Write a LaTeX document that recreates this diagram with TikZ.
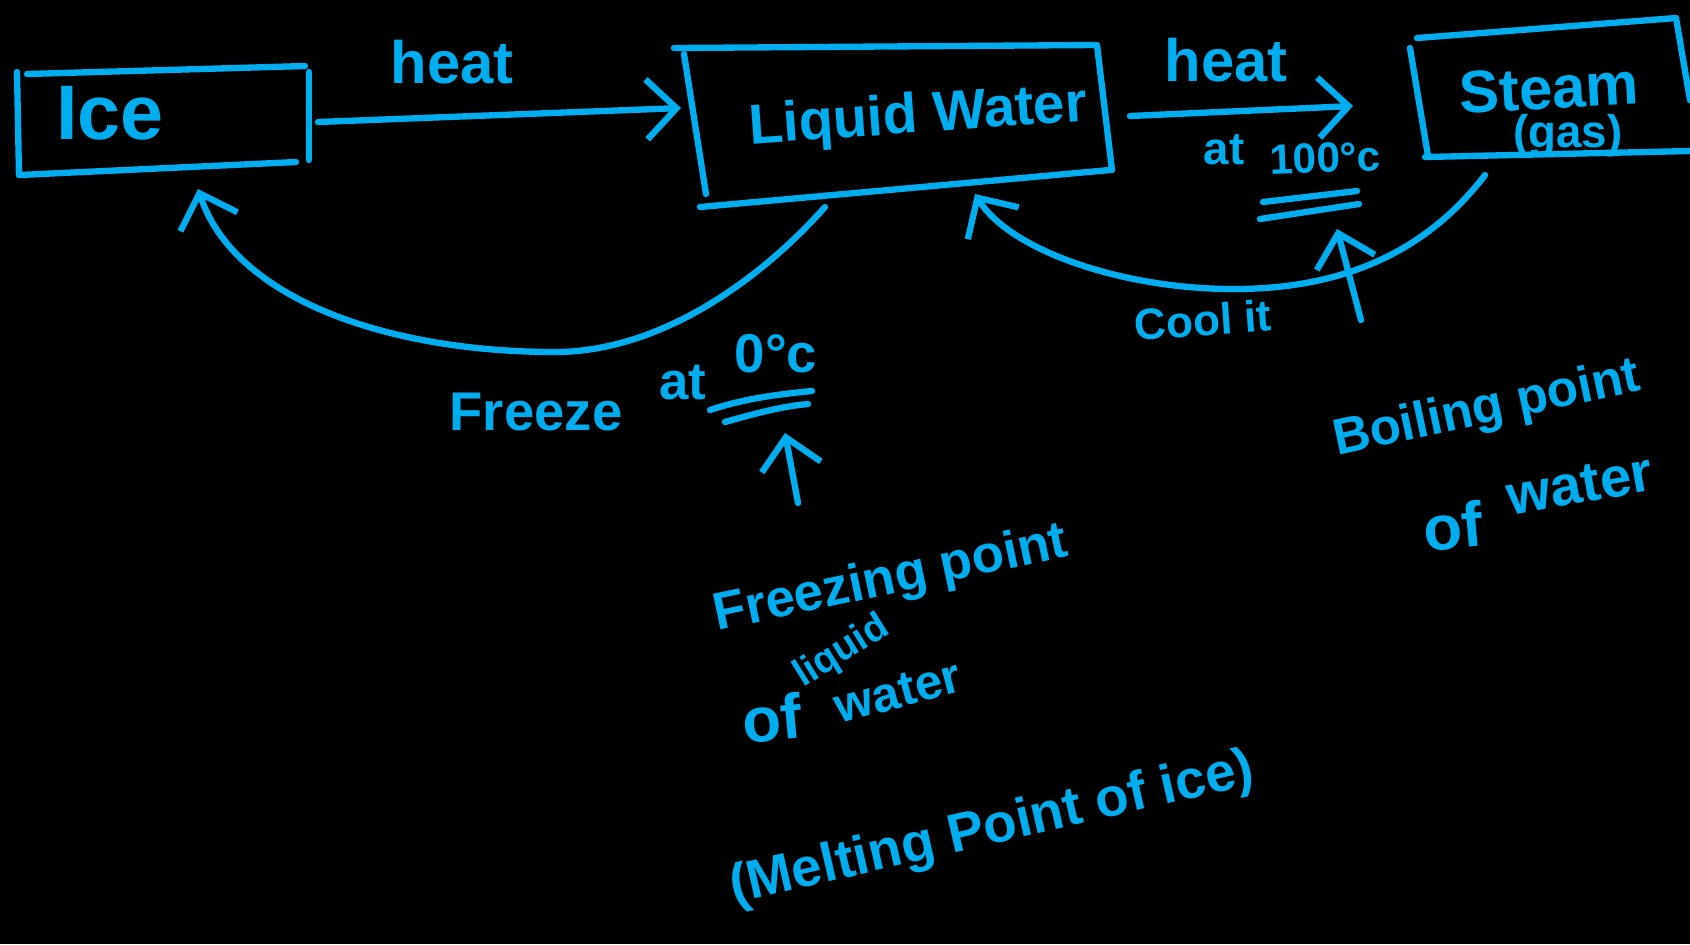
\documentclass[tikz,border=0pt]{standalone}
\usepackage{fontspec}
\setmainfont{Liberation Sans}
\usetikzlibrary{arrows.meta}
\definecolor{ink}{RGB}{0,174,239}
\begin{document}
\begin{tikzpicture}[x=0.01cm,y=-0.01cm,
  stroke/.style={draw=ink,line width=1.8pt,line cap=round,line join=round},
  arr/.style={stroke,-{Straight Barb[length=3mm,width=6mm,line width=1.8pt]}},
  lbl/.style={text=ink,inner sep=0pt},
  fs/.style={font=\bfseries\fontsize{#1}{#1}\selectfont}
]
\fill[black] (0,0) rectangle (1690,944);
\useasboundingbox (0,0) rectangle (1690,944);

% Ice box
\draw[stroke] (17,72) -- (19,175);
\draw[stroke] (27,74) -- (305,66);
\draw[stroke] (309,72) -- (309,160);
\draw[stroke] (19,175) -- (296,162);
\node[lbl,fs=22] (ice) at (110,113) {Ice};

% Liquid water box
\draw[stroke] (674,48) -- (1094,45);
\draw[stroke] (684,54) -- (706,194);
\draw[stroke] (1097,45) -- (1112,170);
\draw[stroke] (700,207) -- (1110,170);
\node[lbl,fs=16,rotate=4] (lw) at (918,118) {Liquid Water};

% Steam box
\draw[stroke] (1417,38) -- (1676,18);
\draw[stroke] (1410,48) -- (1428,156);
\draw[stroke] (1425,157) -- (1690,151);
\draw[stroke] (1676,18) -- (1690,100);
\node[lbl,fs=17,rotate=3] (steam) at (1549,88) {Steam};
\node[lbl,fs=13] (gas) at (1568,136) {(gas)};

% connector end points
\coordinate (iceR) at (318,122);
\coordinate (lwL) at (681,108);
\coordinate (lwR) at (1130,116);
\coordinate (stL) at (1353,106);
\coordinate (lwB) at (825,207);
\coordinate (iceB) at (198,189);
\coordinate (stB) at (1485,175);
\coordinate (lwB2) at (975,194);

% heat arrows
\draw[arr] (iceR) -- (lwL);
\node[lbl,fs=17] (heat1) at (452,62) {heat};
\draw[arr] (lwR) -- (stL);
\node[lbl,fs=17] (heat2) at (1226,60) {heat};
\node[lbl,fs=13] (at1) at (1224,150) {at};
\node[lbl,fs=12,rotate=2] (t100) at (1325,158) {100°c};
\draw[stroke] (1263,202) -- (1357,191);
\draw[stroke] (1260,219) -- (1359,204);
\coordinate (bpT) at (1361,320);
\coordinate (bpH) at (1337,229);
\draw[arr] (bpT) -- (bpH);

% freeze curve
\draw[arr] (lwB) .. controls (760,280) and (660,352) .. (555,352)
           .. controls (390,352) and (235,300) .. (iceB);
\node[lbl,fs=15.5,anchor=base] (freeze) at (536,430) {Freeze};
\node[lbl,fs=15,anchor=base] (at2) at (683,399) {at};
\node[lbl,fs=15.5,anchor=base] (t0) at (776,372) {0°c};
\draw[stroke] (710,410) .. controls (740,400) and (770,395) .. (812,391);
\draw[stroke] (725,422) .. controls (760,412) and (785,406) .. (808,404);
\coordinate (fpT) at (798,503);
\coordinate (fpH) at (785,433);
\draw[arr] (fpT) -- (fpH);

% cool it curve
\draw[arr] (stB) .. controls (1420,260) and (1330,290) .. (1229,289)
           .. controls (1120,288) and (1010,250) .. (lwB2);
\node[lbl,fs=12.5,rotate=4] (cool) at (1203,320) {Cool it};

% freezing point text
\node[lbl,fs=15,rotate=12] (fp) at (891,580) {Freezing point};
\node[lbl,fs=18,rotate=5] (of1) at (772,718) {of};
\node[lbl,fs=11,rotate=32] (liq) at (842,652) {liquid};
\node[lbl,fs=14,rotate=15] (wat1) at (898,692) {water};
\node[lbl,fs=15.5,rotate=13] (melt) at (992,830) {(Melting Point of ice)};

% boiling point text
\node[lbl,fs=14.5,rotate=12] (bp) at (1487,410) {Boiling point};
\node[lbl,fs=18,rotate=5] (of2) at (1453,526) {of};
\node[lbl,fs=16,rotate=10] (wat2) at (1580,485) {water};
\end{tikzpicture}
\end{document}
